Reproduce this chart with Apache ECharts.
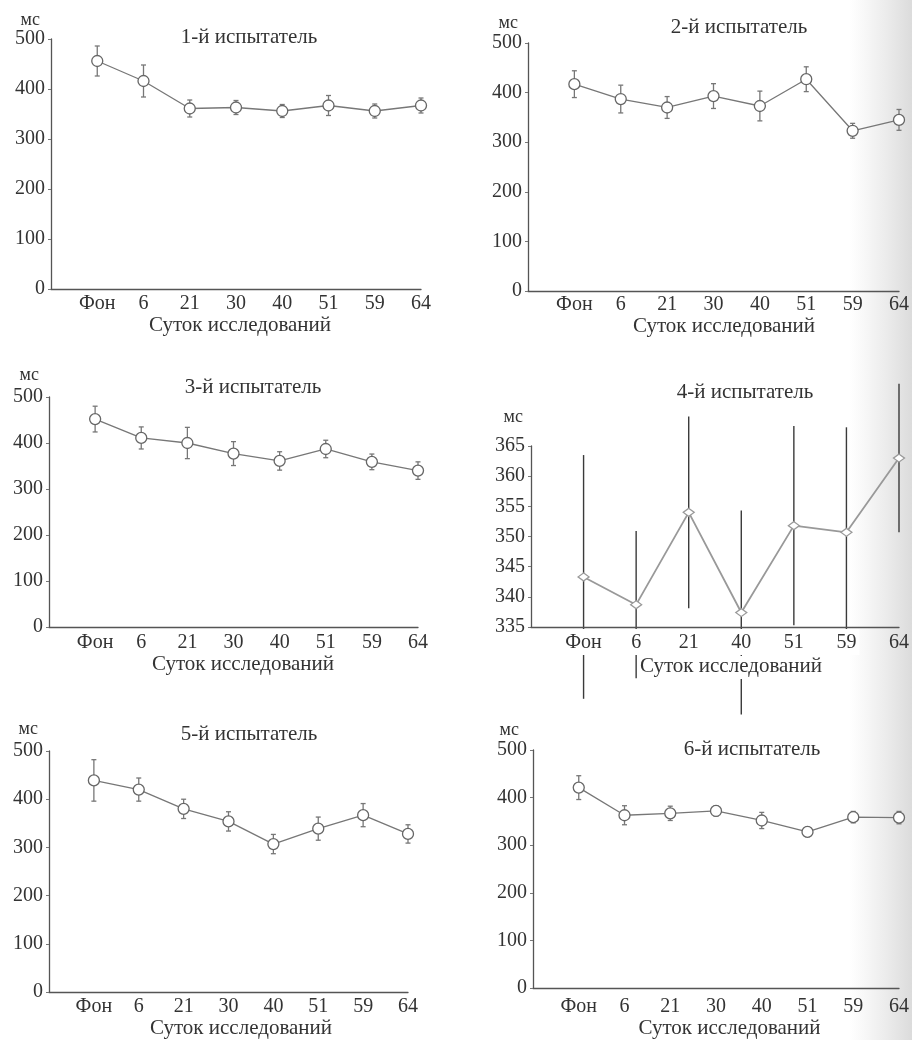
<!DOCTYPE html>
<html><head><meta charset="utf-8">
<script src="https://cdn.jsdelivr.net/npm/echarts@6/dist/echarts.min.js"></script>
<style>html,body{margin:0;padding:0;background:#fff}#c{width:912px;height:1040px}</style>
</head><body><div id="c"></div>
<script>
// ---- data ----
const cats8 = ['Фон','6','21','30','40','51','59','64'];
const cats7 = ['Фон','6','21','40','51','59','64'];
const titles = ['1-й испытатель','2-й испытатель','3-й испытатель','4-й испытатель','5-й испытатель','6-й испытатель'];
const yUnit = 'мс';
const xName = 'Суток исследований';
const p1Mean = [456,416,361,363,356,367,356,367];
const p1Err  = [30,32,17,14,13,20,14,15];
const p2Mean = [417,387,370,393,373,427,323,345];
const p2Err  = [27,28,22,25,30,25,15,21];
const p3Mean = [452,411,400,377,361,387,359,340];
const p3Err  = [28,24,34,26,20,19,17,19];
const p4Mean = [343.3,338.7,354.0,337.4,351.8,350.7,363.0];
const p4Err  = [20.2,12.2,15.9,16.9,16.5,17.4,12.3];
const p5Mean = [439,420,380,354,307,339,367,328];
const p5Err  = [43,24,20,20,20,24,24,19];
const p6Mean = [421,363,367,372,352,328,359,358];
const p6Err  = [25,20,15,11,17,10,12,13];

// ---- layout ----
const FONT = '"Liberation Serif", "DejaVu Serif", serif';
const TXT = '#333';
const panels = [
  {mean:p1Mean, err:p1Err, cats:cats8, grid:{left:51,top:39,width:370,height:250}, title:[249,27], unit:[19,11], xGap:24, xPad:8, lblM:5},
  {mean:p2Mean, err:p2Err, cats:cats8, grid:{left:528,top:43,width:379,height:248}, title:[739,17], unit:[20,10], xGap:22, xPad:21, lblM:4},
  {mean:p3Mean, err:p3Err, cats:cats8, grid:{left:49,top:397,width:369,height:230}, title:[253,377], unit:[22,10], xGap:26, xPad:19, lblM:6},
  {mean:p4Mean, err:p4Err, cats:cats7, grid:{left:531,top:446,width:372,height:181}, title:[745,382], unit:[29,8], xGap:25, xPad:32, lblM:2, small:true},
  {mean:p5Mean, err:p5Err, cats:cats8, grid:{left:49,top:751,width:359,height:242}, title:[249,724], unit:[22,11], xGap:24, xPad:25, lblM:5},
  {mean:p6Mean, err:p6Err, cats:cats8, grid:{left:533,top:750,width:373,height:243}, title:[752,739], unit:[20,14], xGap:29, xPad:27, lblM:9}
];

const option = {animation:false, backgroundColor:'#fff', title:[], grid:[], xAxis:[], yAxis:[], series:[],
  graphic:[{type:'rect', z:-10, silent:true, shape:{x:850, y:0, width:62, height:1040},
    style:{fill:{type:'linear', x:0, y:0, x2:1, y2:0, colorStops:[{offset:0,color:'rgba(200,200,200,0)'},{offset:1,color:'rgba(190,190,190,0.55)'}]}}}]
};

panels.forEach((p, i) => {
  const n = p.cats.length;
  const yMin = p.small ? 335 : 0, yMax = p.small ? 365 : 500, yInt = p.small ? 5 : 100;
  option.title.push({text:titles[i], left:p.title[0], top:p.title[1], textAlign:'center', padding:0,
    textStyle:{fontFamily:FONT, fontSize:21, fontWeight:'normal', color:TXT}});
  option.grid.push(Object.assign({containLabel:false}, p.grid));
  const lblRich = {
    w:{fontFamily:FONT, fontSize:20, color:TXT, backgroundColor:'#fff', padding:[4,3,2,3]},
    n:{fontFamily:FONT, fontSize:20, color:TXT, padding:[4,3,2,3]}
  };
  option.xAxis.push({
    type:'value', gridIndex:i, min:0, max:n, interval:1, z: p.small ? 10 : 0,
    name: p.small ? '{t|' + xName + '}' : xName, nameLocation:'middle', nameGap:p.xGap,
    nameTextStyle:{fontFamily:FONT, fontSize:21, color:TXT, padding:[0,0,0,p.xPad],
      rich:{t:{fontFamily:FONT, fontSize:21, color:TXT, backgroundColor:'#fff', padding:[0,0,2,0]}}},
    axisLine:{show:true, onZero:false, lineStyle:{color:'#555', width:1.3}},
    axisTick:{show:false}, splitLine:{show:false},
    axisLabel:{fontFamily:FONT, fontSize:20, color:TXT, margin:p.lblM, rich: lblRich,
      formatter:v => {
        if (v < 1 || v > n) return '';
        const t = p.cats[v-1];
        if (!p.small) return t;
        return (p.mean[v-1] - p.err[v-1] < yMin) ? '{w|' + t + '}' : '{n|' + t + '}';
      }}
  });
  option.yAxis.push({
    type:'value', gridIndex:i, min:yMin, max:yMax, interval:yInt,
    name:yUnit, nameLocation:'end', nameGap:p.unit[0],
    nameTextStyle:{fontFamily:FONT, fontSize:18, color:TXT, align:'right', verticalAlign:'middle', padding:[0,p.unit[1],0,0]},
    axisLine:{show:true, lineStyle:{color:'#555', width:1.3}},
    axisTick:{show:true, length:3, lineStyle:{color:'#777'}}, splitLine:{show:false},
    axisLabel:{fontFamily:FONT, fontSize:20, color:TXT, margin:6}
  });
  const lineData = p.mean.map((m,k) => [k+1, m]);
  const errData = p.mean.map((m,k) => [k+1, m - p.err[k], m + p.err[k]]);
  const barColor = p.small ? '#3a3a3a' : '#777';
  const cap = p.small ? 0 : 2.5;
  option.series.push({
    type:'custom', xAxisIndex:i, yAxisIndex:i, clip:false, z:1,
    data:errData, encode:{x:0, y:[1,2]},
    renderItem:(params, api) => {
      const x = api.value(0);
      const lo = api.coord([x, api.value(1)]);
      const hi = api.coord([x, api.value(2)]);
      const st = {stroke:barColor, lineWidth:p.small ? 1.4 : 1.3};
      const ch = [{type:'line', shape:{x1:lo[0],y1:lo[1],x2:hi[0],y2:hi[1]}, style:st}];
      if (cap) {
        ch.push({type:'line', shape:{x1:lo[0]-cap,y1:lo[1],x2:lo[0]+cap,y2:lo[1]}, style:st});
        ch.push({type:'line', shape:{x1:hi[0]-cap,y1:hi[1],x2:hi[0]+cap,y2:hi[1]}, style:st});
      }
      return {type:'group', children:ch};
    }
  });
  option.series.push({
    type:'line', xAxisIndex:i, yAxisIndex:i, data:lineData, z:3, clip:false,
    symbol: p.small ? 'diamond' : 'circle', symbolSize: p.small ? [11,8] : 11,
    lineStyle:{color: p.small ? '#999' : '#777', width: p.small ? 1.8 : 1.3},
    itemStyle:{color:'#fff', borderColor: p.small ? '#999' : '#666', borderWidth:1.3}
  });
});

const chart = echarts.init(document.getElementById('c'), null, {renderer:'canvas'});
chart.setOption(option);
</script>
</body></html>
